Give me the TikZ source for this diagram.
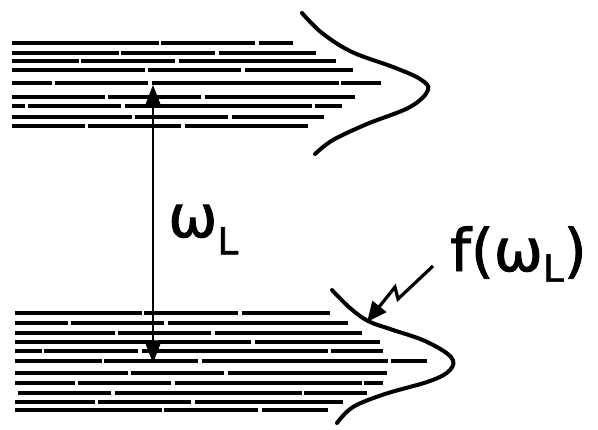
\documentclass[tikz,border=0pt]{standalone}
\usepackage{fontspec}
\setmainfont{DejaVu Sans}
\newfontfamily\handfont[FakeBold=1.6]{DejaVu Sans}
\usetikzlibrary{arrows.meta}
\tikzset{
  level/.style={line width=2.4pt, dash pattern=on 110pt off 2pt on 70pt off 3pt on 140pt off 2pt},
  profile/.style={line width=3pt, line cap=round},
  gap/.style={line width=1.1pt, {Triangle[length=17pt,width=13pt]}-{Triangle[length=17pt,width=13pt]}},
  bolt/.style={line width=2.4pt, -{Triangle[length=15pt,width=13pt]}},
  lbl/.style={inner sep=0pt, font=\handfont\fontsize{44}{44}\selectfont}
}
\begin{document}
\begin{tikzpicture}[x=0.75pt,y=-0.75pt]
\useasboundingbox (0,0) rectangle (598,429);
% upper band
\foreach \y/\r/\p in {43/293/0, 53/316/30, 61/336/60, 70/353/10, 83/381/80, 97/355/40, 106/342/100, 117/324/20, 126/308/55}
  \draw[level, dash phase=\p pt] (12,\y) -- (\r,\y);
% lower band
\foreach \y/\r/\p in {313/330/15, 323/348/70, 333/362/35, 342/380/5, 351/383/90, 361/427/45, 373/387/25, 383/383/65, 393/367/110, 402/343/50, 410/328/0}
  \draw[level, dash phase=\p pt] (15,\y) -- (\r,\y);
% distribution profiles
\draw[profile] plot[smooth, tension=0.6] coordinates {(302,13) (322,33) (352,52) (393,67) (420,79) (428,90) (410,107) (367,124) (333,140) (315,154)};
\draw[profile] plot[smooth, tension=0.6] coordinates {(332,290) (350,308) (368,321) (390,329) (425,341) (451,357) (450,370) (430,381) (385,394) (353,407) (337,423)};
% transition arrow
\coordinate (top) at (153,85);
\coordinate (bot) at (153,363);
\draw[gap] (bot) -- (top);
\node[lbl, anchor=base west] (wl) at (168,237) {ω\raisebox{-13pt}{\fontsize{28}{28}\selectfont L}};
% label f(omega_L)
\node[lbl, anchor=base west] (f) at (450,271) {f(ω\raisebox{-8pt}{\fontsize{28}{28}\selectfont L})};
\coordinate (b0) at (433,266);
\coordinate (b1) at (398,299);
\coordinate (b2) at (395,287);
\coordinate (b3) at (367,322);
\draw[bolt] (b0) -- (b1) -- (b2) -- (b3);
\end{tikzpicture}
\end{document}
